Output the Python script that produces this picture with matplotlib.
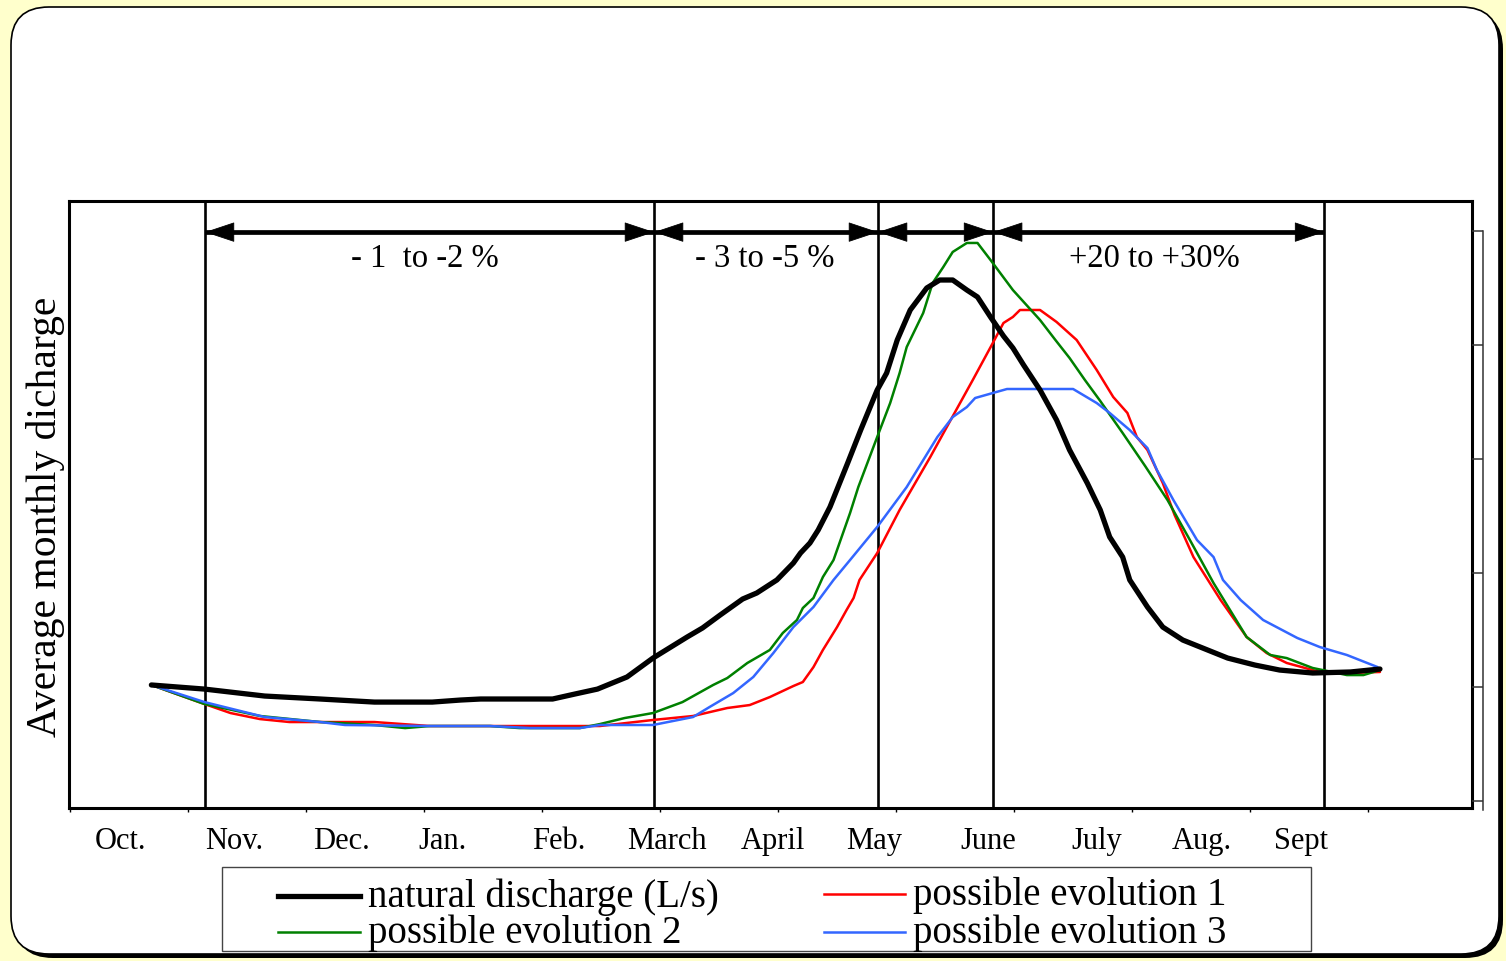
import matplotlib
matplotlib.use("Agg")
import matplotlib.pyplot as plt
from matplotlib.patches import FancyBboxPatch
from matplotlib.lines import Line2D

plt.rcParams['font.family'] = ['Liberation Serif', 'DejaVu Serif']

# ---------------- data (x: months after 1 Oct, y: discharge, arbitrary units) -------------
month_labels = ["Oct.", "Nov.", "Dec.", "Jan.", "Feb.", "March", "April", "May",
                "June", "July", "Aug.", "Sept"]
month_label_pos = [0.43, 1.39, 2.30, 3.16, 4.14, 5.06, 5.96, 6.81, 7.78, 8.70, 9.59, 10.43]
month_ticks = list(range(12))

nat_x = [0.69, 1.14, 1.65, 2.12, 2.58, 3.07, 3.31, 3.48, 4.09, 4.28, 4.47, 4.72, 4.94,
         5.23, 5.36, 5.51, 5.70, 5.82, 5.99, 6.13, 6.19, 6.27, 6.34, 6.44, 6.59, 6.70,
         6.84, 6.92, 7.01, 7.12, 7.26, 7.37, 7.48, 7.60, 7.69, 7.80, 7.91, 7.99, 8.08,
         8.22, 8.36, 8.47, 8.62, 8.73, 8.81, 8.92, 8.98, 9.13, 9.26, 9.43, 9.62, 9.81,
         10.04, 10.25, 10.53, 10.85, 11.10]
nat_y = [10.18, 9.82, 9.21, 8.95, 8.68, 8.68, 8.86, 8.95, 8.95, 9.39, 9.82, 10.88, 12.54,
         14.39, 15.18, 16.32, 17.72, 18.25, 19.39, 20.88, 21.75, 22.63, 23.77, 25.79,
         29.65, 32.54, 36.05, 37.54, 40.44, 43.07, 45.00, 45.70, 45.70, 44.82, 44.21,
         42.46, 40.79, 39.74, 38.25, 36.05, 33.42, 30.79, 27.89, 25.53, 23.16, 21.40,
         19.39, 17.02, 15.26, 14.12, 13.33, 12.54, 11.93, 11.49, 11.23, 11.32, 11.58]

ev1_x = [0.69, 1.14, 1.36, 1.61, 1.86, 2.58, 3.05, 4.49, 4.94, 5.28, 5.57, 5.76, 5.93,
         6.13, 6.21, 6.30, 6.38, 6.50, 6.58, 6.64, 6.69, 6.84, 7.03, 7.29, 7.43, 7.65,
         7.82, 7.91, 7.99, 8.05, 8.22, 8.36, 8.53, 8.70, 8.84, 8.96, 9.04, 9.13, 9.26,
         9.36, 9.52, 9.75, 9.97, 10.14, 10.31, 10.59, 10.82, 11.10]
ev1_y = [10.18, 8.51, 7.72, 7.19, 6.93, 6.93, 6.58, 6.58, 7.11, 7.46, 8.16, 8.42, 9.12,
         10.09, 10.44, 11.75, 13.25, 15.26, 16.75, 17.81, 19.39, 21.75, 25.53, 30.18,
         32.81, 36.93, 40.18, 41.93, 42.46, 43.07, 43.07, 42.02, 40.44, 37.81, 35.44,
         34.04, 31.93, 30.79, 27.89, 25.09, 21.40, 17.63, 14.39, 12.98, 12.11, 11.32,
         11.23, 11.32]

ev2_x = [0.69, 1.14, 1.61, 2.12, 2.58, 2.84, 3.05, 3.56, 3.81, 4.32, 4.49, 4.70, 4.94,
         5.19, 5.45, 5.57, 5.74, 5.93, 6.04, 6.16, 6.21, 6.30, 6.38, 6.47, 6.61, 6.68,
         6.84, 6.95, 7.03, 7.09, 7.23, 7.31, 7.40, 7.48, 7.60, 7.69, 7.80, 7.99, 8.22,
         8.35, 8.47, 8.60, 8.73, 8.92, 9.11, 9.30, 9.49, 9.69, 9.83, 9.97, 10.17, 10.31,
         10.53, 10.82, 10.96, 11.10]
ev2_y = [10.18, 8.51, 7.46, 6.93, 6.67, 6.40, 6.58, 6.58, 6.40, 6.40, 6.75, 7.28, 7.72,
         8.68, 10.18, 10.79, 12.11, 13.25, 14.74, 15.88, 16.93, 17.81, 19.65, 21.14,
         25.26, 27.54, 31.93, 34.91, 37.54, 39.82, 42.81, 45.44, 46.84, 48.16, 48.95,
         48.95, 47.46, 44.82, 42.19, 40.44, 38.86, 36.93, 35.09, 32.28, 29.39, 26.40,
         22.89, 19.12, 16.75, 14.39, 12.81, 12.54, 11.67, 11.05, 11.05, 11.49]

ev3_x = [0.69, 1.14, 1.65, 2.12, 2.33, 3.05, 3.56, 3.90, 4.32, 4.49, 4.94, 5.28, 5.42,
         5.62, 5.79, 5.96, 6.13, 6.30, 6.47, 6.61, 6.84, 7.09, 7.35, 7.48, 7.60, 7.67,
         7.82, 7.94, 8.50, 8.70, 8.81, 8.98, 9.13, 9.21, 9.35, 9.55, 9.69, 9.77, 9.92,
         10.11, 10.40, 10.59, 10.82, 11.08]
ev3_y = [10.18, 8.68, 7.37, 6.93, 6.67, 6.58, 6.58, 6.40, 6.40, 6.67, 6.67, 7.37, 8.25,
         9.47, 10.88, 12.98, 15.26, 17.02, 19.39, 21.14, 24.04, 27.54, 31.93, 33.68,
         34.56, 35.35, 35.79, 36.14, 36.14, 34.91, 34.04, 32.54, 30.96, 29.04, 26.40,
         22.89, 21.40, 19.39, 17.63, 15.88, 14.30, 13.51, 12.81, 11.75]

period_bounds = [1.144, 4.949, 6.847, 7.822, 10.627]
period_labels = ["- 1  to -2 %", "- 3 to -5 %", "", "+20 to +30%"]
period_label_x = [3.01, 5.89, None, 9.19]
arrow_level = 49.9
label_level = 47.6

series_names = ["natural discharge (L/s)", "possible evolution 1",
                "possible evolution 2", "possible evolution 3"]
series_colors = ["black", "#ff0000", "#008000", "#3366ff"]
series_lw = [3.8, 1.8, 1.8, 1.8]

# ---------------- figure ----------------
W, H = 1506, 961
fig = plt.figure(figsize=(W / 100, H / 100), dpi=100)
fig.patch.set_facecolor("#ffffcc")

bg = fig.add_axes([0, 0, 1, 1])
bg.set_xlim(0, W)
bg.set_ylim(H, 0)
bg.axis("off")
shadow = FancyBboxPatch((15, 11), 1488, 947, boxstyle="round,pad=0,rounding_size=38",
                        facecolor="black", edgecolor="black", lw=0)
panel = FancyBboxPatch((11, 7), 1488, 947, boxstyle="round,pad=0,rounding_size=38",
                       facecolor="white", edgecolor="black", lw=1.2)
bg.add_patch(shadow)
bg.add_patch(panel)

# main axes
ax = fig.add_axes([69 / W, (H - 808) / H, (1472 - 69) / W, (808 - 201) / H])
ax.set_xlim(-0.008, 11.88)
ax.set_ylim(-0.61, 52.63)
for s in ax.spines.values():
    s.set_linewidth(2.2)
ax.set_yticks([])
ax.set_xticks(month_ticks)
ax.set_xticklabels([])
ax.tick_params(axis="x", which="major", direction="out", length=3, width=1)
ax.set_xticks(month_label_pos, minor=True)
ax.set_xticklabels(month_labels, minor=True, fontsize=22)
ax.tick_params(axis="x", which="minor", length=0, pad=13.5)

for xb in period_bounds:
    ax.axvline(xb, color="black", lw=1.9, zorder=2)

# double-headed arrows: thick shaft + thin-stroked filled heads reaching the bounds
ax.hlines([arrow_level] * (len(period_bounds) - 1), period_bounds[:-1], period_bounds[1:],
          colors="black", lw=3.4, zorder=3)
for x1, x2 in zip(period_bounds[:-1], period_bounds[1:]):
    ax.annotate("", xy=(x2, arrow_level), xytext=(x1, arrow_level),
                arrowprops=dict(arrowstyle="<|-|>,head_length=0.9,head_width=0.3",
                                mutation_scale=22, lw=0.6, color="black",
                                shrinkA=0, shrinkB=0), zorder=3)
for lab, lx in zip(period_labels, period_label_x):
    if lab:
        ax.text(lx, label_level, lab, ha="center", va="center", fontsize=23.5)

xs = [nat_x, ev1_x, ev2_x, ev3_x]
ys = [nat_y, ev1_y, ev2_y, ev3_y]
order = [1, 2, 3, 0]
for i in order:
    ax.plot(xs[i], ys[i], color=series_colors[i], lw=series_lw[i],
            solid_joinstyle="round", solid_capstyle="round", zorder=4)

ax.set_ylabel("Average monthly dicharge", fontsize=30)
ax.yaxis.label.set_va("center")
ax.yaxis.set_label_coords(-0.017, 0.479)

# right-hand secondary axis (unlabelled)
ax2 = fig.add_axes([1472 / W, (H - 810) / H, 11 / W, (810 - 231) / H])
ax2.set_xlim(0, 1)
ax2.set_ylim(-0.79, 50.0)
ax2.patch.set_alpha(0)
for k in ["left", "top", "bottom"]:
    ax2.spines[k].set_visible(False)
ax2.spines["right"].set_linewidth(1.1)
ax2.spines["right"].set_color("#333333")
ax2.set_xticks([])
ax2.yaxis.tick_right()
ax2.set_yticks([0, 10, 20, 30, 40, 50])
ax2.set_yticklabels([])
ax2.tick_params(axis="y", direction="in", length=8, width=1.1, color="#333333")

# legend box
legbox = FancyBboxPatch((222, 867), 1089, 84, boxstyle="square,pad=0",
                        facecolor="white", edgecolor="#444444", lw=1.0)
bg.add_patch(legbox)
leg_pos = [(278, 360, 896), (824, 905, 894), (278, 360, 932), (824, 905, 932)]
for i, (xa, xb_, yy) in enumerate(leg_pos):
    bg.add_line(Line2D([xa, xb_], [yy, yy], color=series_colors[i], lw=series_lw[i]))
    bg.text(xb_ + 8, yy + 1, series_names[i], ha="left", va="center", fontsize=28)

fig.savefig("out.png", dpi=100, facecolor=fig.get_facecolor())
